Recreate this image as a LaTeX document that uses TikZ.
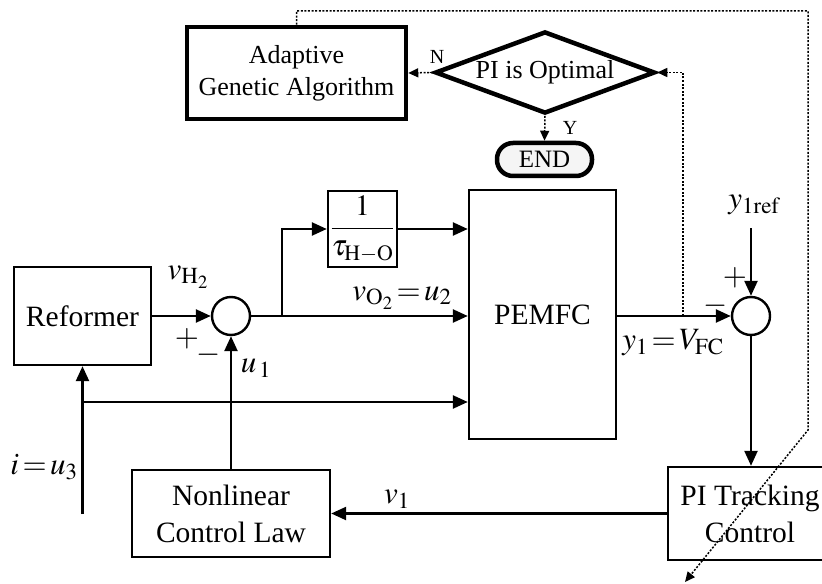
\documentclass[tikz,border=0pt]{standalone}
\usepackage{mathptmx}
\usepackage[no-math]{fontspec}
\setmainfont{Liberation Serif}
\usetikzlibrary{arrows.meta,shapes.geometric}
\newcommand\mylblfont{\fontsize{31bp}{36bp}\selectfont\thickmuskip=2mu\relax}
\begin{document}
\begin{tikzpicture}[x=1bp,y=-1bp,
  font=\fontsize{29.5bp}{37bp}\selectfont,
  blk/.style={draw, line width=2.4bp, inner sep=0pt, align=center},
  thk/.style={draw, line width=4.5bp, inner sep=0pt, align=center},
  sumnode/.style={circle, draw, line width=2.4bp, minimum size=38bp, inner sep=0pt},
  conn/.style={line width=2.4bp, -{Triangle[length=15bp,width=13bp]}},
  dotc/.style={line width=1.5bp, dash pattern=on 2bp off 1.6bp, -{Triangle[length=10bp,width=9bp]}},
  lbl/.style={inner sep=0pt, font=\mylblfont},
  sml/.style={inner sep=0pt, font=\fontsize{20bp}{22bp}\selectfont}]
\useasboundingbox (0,0) rectangle (822,584);

% blocks
\node[blk, minimum width=137bp, minimum height=98bp] (ref) at (82.5,316) {Reformer};
\node[sumnode] (s1) at (231,316) {};
\node[blk, minimum width=69bp, minimum height=76bp] (tau) at (362.5,229) {$\displaystyle\frac{1}{\tau_{\mathrm{H-O}}}$};
\node[blk, minimum width=147bp, minimum height=249bp] (pem) at (542.5,314.5) {PEMFC};
\node[sumnode] (s2) at (751,316) {};
\node[blk, minimum width=198bp, minimum height=87bp] (ncl) at (231,513.5) {Nonlinear\\Control Law};
\node[blk, minimum width=164bp, minimum height=93bp] (pi) at (750,513.5) {PI Tracking\\Control};
\node[thk, minimum width=219bp, minimum height=92bp, font=\fontsize{26bp}{32bp}\selectfont] (aga) at (296.5,73) {Adaptive\\Genetic Algorithm};
\node[diamond, draw, line width=4.5bp, shape aspect=2.37, minimum width=220bp, inner sep=0pt, font=\fontsize{26bp}{32bp}\selectfont] (dia) at (545,72.5) {PI is Optimal};
\node[draw, line width=4.5bp, rounded corners=16bp, fill=gray!8, minimum width=95bp, minimum height=33bp, inner sep=0pt, font=\fontsize{25bp}{30bp}\selectfont] (end) at (544.5,159.5) {END};

% labels
\node[lbl] (lvh) at (188,277) {$v_{\mathrm{H}_2}$};
\node[lbl] (lp1) at (187,339) {$+$};
\node[lbl] (lm1) at (209,355) {$-$};
\node[lbl] (lu1) at (256,368) {$u_{\,1}$};
\node[lbl] (lvo) at (402,298) {$v_{\mathrm{O}_2}=u_2$};
\node[lbl] (ly1) at (673,343) {$y_1=V_{\mathrm{FC}}$};
\node[lbl] (lyr) at (754,205) {$y_{1\mathrm{ref}}$};
\node[lbl] (lp2) at (735,278) {$+$};
\node[lbl] (lm2) at (716,306) {$-$};
\node[lbl] (li) at (44,467) {$i=u_3$};
\node[lbl] (lv1) at (397,499) {$v_1$};
\node[sml] (ln) at (437,57) {N};
\node[sml] (ly) at (570,128) {Y};

% coordinates
\coordinate (br) at (282,316);
\coordinate (ib) at (82.5,514);
\coordinate (ij) at (82.5,402);
\coordinate (yr) at (751,228);
\coordinate (b1) at (683,316);
\coordinate (t2) at (808,11);
\coordinate (t3) at (808,430);
\coordinate (t4) at (685,582);

% solid connectors
\draw[conn] (ref.east |- s1) -- (s1.west);
\draw[conn] (s1.east) -- (s1.east -| pem.west);
\draw[conn] (br) |- (tau.west);
\draw[conn] (tau.east) -- (tau.east -| pem.west);
\draw[conn] (ib) -- (ref.south);
\draw[conn] (ij) -- (ij -| pem.west);
\draw[conn] (ncl.north) -- (s1.south);
\draw[conn] (pem.east |- s2) -- (s2.west);
\draw[conn] (yr) -- (s2.north);
\draw[conn] (s2.south) -- (s2.south |- pi.north);
\draw[conn] (pi.west) -- (ncl.east);

% dotted connectors
\draw[dotc] (aga.north) |- (t2) -- (t3) -- (t4);
\draw[dotc] (b1) |- (dia.east);
\draw[dotc] (dia.west) -- (aga.east);
\draw[dotc] (dia.south) -- (end.north);
\end{tikzpicture}
\end{document}
